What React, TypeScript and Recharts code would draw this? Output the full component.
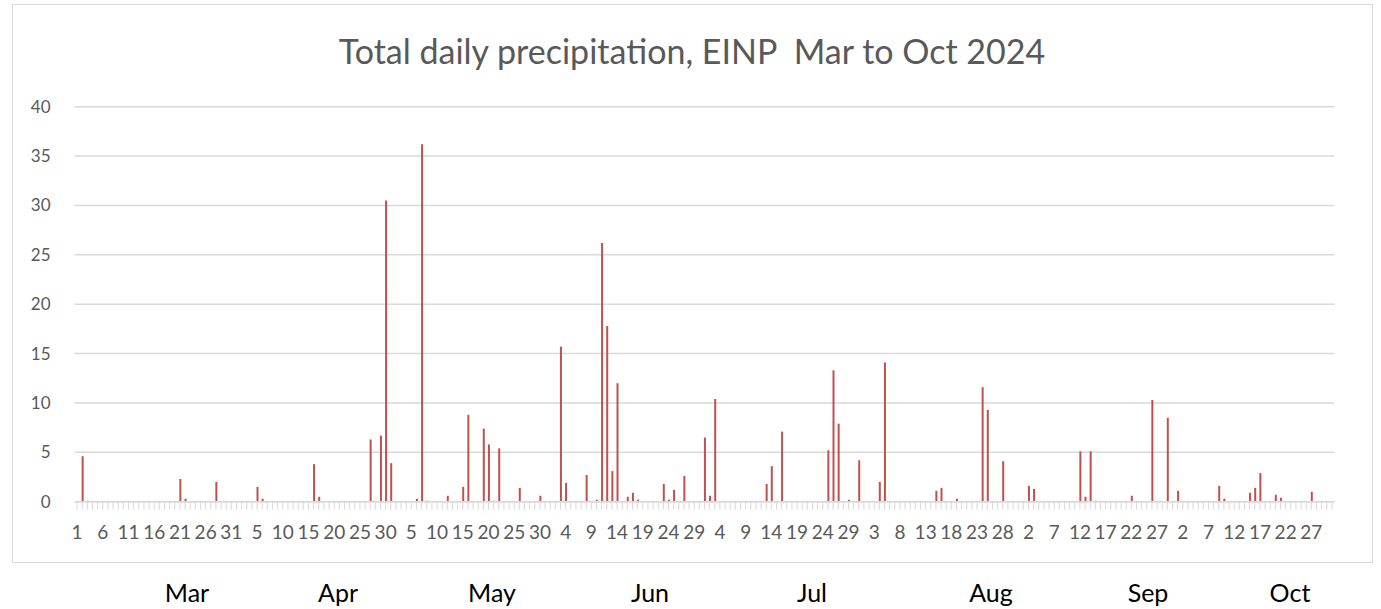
import { BarChart, Bar, XAxis, YAxis, CartesianGrid } from 'recharts'

const months = ['Mar', 'Apr', 'May', 'Jun', 'Jul', 'Aug', 'Sep', 'Oct']
const daysInMonth = [31, 30, 31, 30, 31, 31, 30, 31]

// days with rain (MM-DD) and the amount in mm
const rainDates = [
  '03-02', '03-03', '03-21', '03-22', '03-28',
  '04-05', '04-06', '04-16', '04-17', '04-27', '04-29', '04-30',
  '05-01', '05-06', '05-07', '05-08', '05-12', '05-15', '05-16', '05-19', '05-20', '05-21', '05-22', '05-26', '05-30',
  '06-03', '06-04', '06-08', '06-10', '06-11', '06-12', '06-13', '06-14', '06-16', '06-17', '06-18', '06-23', '06-24', '06-25', '06-27',
  '07-01', '07-02', '07-03', '07-13', '07-14', '07-16', '07-25', '07-26', '07-27', '07-29', '07-31',
  '08-04', '08-05', '08-15', '08-16', '08-19', '08-24', '08-25', '08-28',
  '09-02', '09-03', '09-12', '09-13', '09-14', '09-15', '09-22', '09-26', '09-29',
  '10-01', '10-09', '10-10', '10-15', '10-16', '10-17', '10-20', '10-21', '10-27',
]
const rainMm = [
  4.6, 0.1, 2.3, 0.3, 2.0,
  1.5, 0.3, 3.8, 0.5, 6.3, 6.7, 30.5,
  3.9, 0.3, 36.2, 0.1, 0.6, 1.5, 8.8, 7.4, 5.8, 0.1, 5.4, 1.4, 0.6,
  15.7, 1.9, 2.7, 0.2, 26.2, 17.8, 3.1, 12.0, 0.5, 0.9, 0.2, 1.8, 0.2, 1.2, 2.6,
  6.5, 0.6, 10.4, 1.8, 3.6, 7.1, 5.2, 13.3, 7.9, 0.2, 4.2,
  2.0, 14.1, 1.1, 1.4, 0.3, 11.6, 9.3, 4.1,
  1.6, 1.3, 5.1, 0.5, 5.1, 0.1, 0.6, 10.3, 8.5,
  1.1, 1.6, 0.3, 0.9, 1.4, 2.9, 0.7, 0.4, 1.0,
]

const yTicks = [0, 5, 10, 15, 20, 25, 30, 35, 40]

// where the month captions sit under the chart frame (centre x)
const monthLabelX = [187, 338, 492, 650, 812, 991, 1148, 1290]

const pad = (n: number) => String(n).padStart(2, '0')

const data: { date: string; day: number; mm: number }[] = []
months.forEach((_, mi) => {
  for (let d = 1; d <= daysInMonth[mi]; d++) {
    const key = `${pad(mi + 3)}-${pad(d)}`
    const idx = rainDates.indexOf(key)
    data.push({ date: key, day: d, mm: idx >= 0 ? rainMm[idx] : 0 })
  }
})

function DayTick(props: any) {
  const { x, y, index } = props
  if (index % 5 !== 0) return <g />
  return (
    <text x={x} y={y} dy="0.71em" textAnchor="middle" fill="#595959" fontSize={19}>
      {data[index].day}
    </text>
  )
}

export default function App() {
  return (
    <div
      style={{
        position: 'absolute',
        left: 0,
        top: 0,
        width: 1381,
        height: 609,
        background: '#fff',
        fontFamily: 'Lato, "Open Sans", sans-serif',
      }}
    >
      <div
        style={{
          position: 'absolute',
          left: 12,
          top: 4,
          width: 1359,
          height: 557,
          border: '1px solid #d9d9d9',
        }}
      />
      <div
        style={{
          position: 'absolute',
          left: 0,
          width: 1384,
          top: 30,
          textAlign: 'center',
          fontSize: 34,
          color: '#595959',
          whiteSpace: 'pre',
        }}
      >
        {'Total daily precipitation, EINP  Mar to Oct 2024'}
      </div>
      <div style={{ position: 'absolute', left: 0, top: 0 }}>
        <BarChart
          width={1381}
          height={609}
          data={data}
          margin={{ top: 106.7, right: 46.5, bottom: 77.3, left: 14.5 }}
          barCategoryGap={0}
        >
          <CartesianGrid vertical={false} stroke="#d9d9d9" strokeWidth={1.5} />
          <XAxis
            dataKey="date"
            interval={0}
            height={30}
            axisLine={{ stroke: '#d9d9d9', strokeWidth: 1.5 }}
            tickLine={{ stroke: '#d9d9d9', strokeWidth: 1 }}
            tickSize={8}
            tickMargin={16}
            tick={<DayTick />}
          />
          <YAxis
            domain={[0, 40]}
            ticks={yTicks}
            width={60}
            axisLine={false}
            tickLine={false}
            tickSize={0}
            tickMargin={24}
            tick={{ fill: '#595959', fontSize: 17 }}
          />
          <Bar dataKey="mm" fill="#c0504d" barSize={2} isAnimationActive={false} />
        </BarChart>
      </div>
      {months.map((m, i) => (
        <div
          key={m}
          style={{
            position: 'absolute',
            left: monthLabelX[i] - 50,
            width: 100,
            top: 577,
            textAlign: 'center',
            fontSize: 25,
            color: '#000',
          }}
        >
          {m}
        </div>
      ))}
    </div>
  )
}
